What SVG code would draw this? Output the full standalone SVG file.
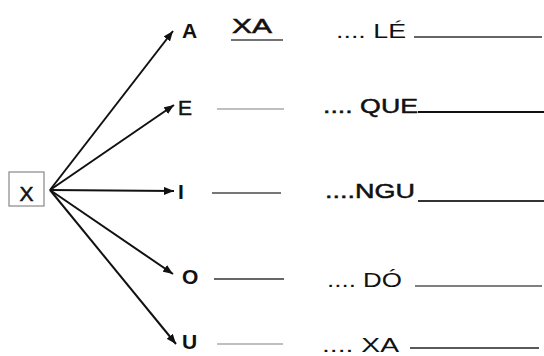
<svg xmlns="http://www.w3.org/2000/svg" width="544" height="356" viewBox="0 0 544 356">
<style>
text{font-family:"Liberation Sans",Arial,sans-serif;fill:#111}
.v{font-size:21px;font-weight:bold}
.w{font-size:21px}
.s{stroke:#111;stroke-width:0.5}
.arr{stroke:#111;stroke-width:2;fill:none;marker-end:url(#ah)}
</style>
<defs>
<marker id="ah" markerUnits="userSpaceOnUse" markerWidth="10" markerHeight="8" refX="10" refY="4" orient="auto">
<path d="M0,0 L10,4 L0,8 Z" fill="#111"/>
</marker>
</defs>
<rect width="544" height="356" fill="#fff"/>
<g id="connectors">
<line class="arr" x1="50" y1="190" x2="173" y2="31"/>
<line class="arr" x1="50" y1="190" x2="174" y2="105"/>
<line class="arr" x1="50" y1="190" x2="174" y2="191"/>
<line class="arr" x1="50" y1="190" x2="173" y2="274"/>
<line class="arr" x1="50" y1="190" x2="176" y2="344"/>
</g>
<g id="node-X">
<rect x="9" y="172" width="35" height="34" fill="#fff" stroke="#888" stroke-width="1.2"/>
<text x="26.5" y="201" class="w s" text-anchor="middle" font-size="22">X</text>
</g>
<g id="node-A">
<text x="182" y="38" class="v" font-size="18">A</text>
<text x="232" y="33" class="w s" textLength="40" lengthAdjust="spacingAndGlyphs">XA</text>
<line x1="231" y1="40" x2="283" y2="40" stroke="#444" stroke-width="1.5"/>
<text x="336" y="38" class="w" textLength="70" lengthAdjust="spacingAndGlyphs">.... LÉ</text>
<line x1="414" y1="37" x2="542" y2="37" stroke="#666" stroke-width="2"/>
</g>
<g id="node-E">
<text x="178" y="115" class="w s">E</text>
<line x1="217" y1="109" x2="284" y2="109" stroke="#aaa" stroke-width="1.5"/>
<text x="323" y="113" class="w s" textLength="95" lengthAdjust="spacingAndGlyphs">.... QUE</text>
<line x1="418" y1="112" x2="544" y2="112" stroke="#111" stroke-width="2"/>
</g>
<g id="node-I">
<text x="178" y="199" class="v">I</text>
<line x1="212" y1="193" x2="281" y2="193" stroke="#777" stroke-width="2"/>
<text x="325" y="198" class="w s" textLength="90" lengthAdjust="spacingAndGlyphs">....NGU</text>
<line x1="418" y1="201" x2="544" y2="201" stroke="#333" stroke-width="2"/>
</g>
<g id="node-O">
<text x="182" y="284" class="v">O</text>
<line x1="214" y1="279" x2="284" y2="279" stroke="#333" stroke-width="1.5"/>
<text x="327" y="287" class="w" textLength="75" lengthAdjust="spacingAndGlyphs">.... DÓ</text>
<line x1="415" y1="286" x2="542" y2="286" stroke="#555" stroke-width="1.5"/>
</g>
<g id="node-U">
<text x="182" y="349" class="v">U</text>
<line x1="217" y1="344" x2="283" y2="344" stroke="#aaa" stroke-width="1.5"/>
<text x="322" y="352" class="w" font-size="20" textLength="77" lengthAdjust="spacingAndGlyphs">.... XA</text>
<line x1="410" y1="348" x2="539" y2="348" stroke="#222" stroke-width="1.5"/>
</g>
</svg>
